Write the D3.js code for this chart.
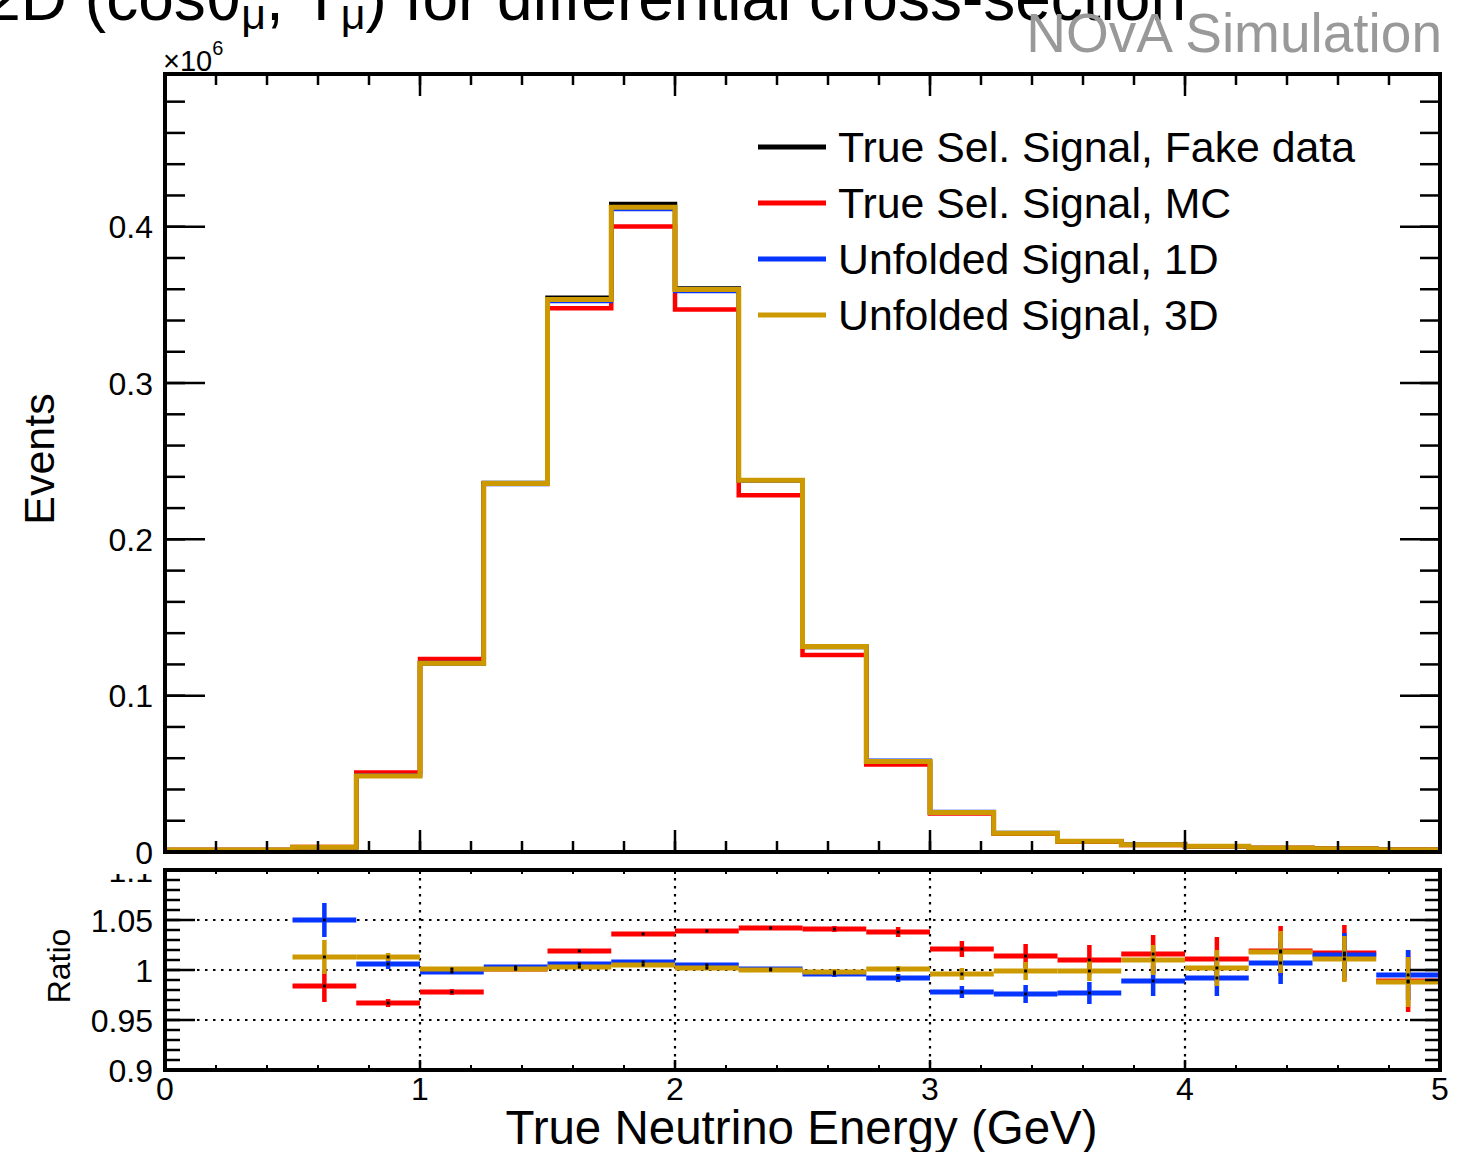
<!DOCTYPE html>
<html>
<head>
<meta charset="utf-8">
<script src="https://cdn.jsdelivr.net/npm/d3@7"></script>
<style>
  body { margin: 0; background: #fff; }
  svg { display: block; }
  text { font-family: "Liberation Sans", Arial, Helvetica, sans-serif; fill: #000; }
</style>
</head>
<body>
<svg id="chart" width="1458" height="1152"></svg>
<script>
// ---- histogram binning (true neutrino energy, GeV) ----
const binLow = [0, 0.25, 0.5, 0.75, 1.0, 1.25, 1.5, 1.75, 2.0, 2.25,
                2.5, 2.75, 3.0, 3.25, 3.5, 3.75, 4.0, 4.25, 4.5, 4.75];
const binWidth = 0.25;

// ---- event counts per bin (units of 10^6) ----
const fakeData   = [0.0012, 0.0013, 0.0031, 0.0492, 0.1208, 0.2360, 0.3545, 0.4145, 0.3605, 0.2378,
                    0.1312, 0.0580, 0.0252, 0.0120, 0.0068, 0.0046, 0.0036, 0.0026, 0.0020, 0.0015];
const mcSignal   = [0.0012, 0.0013, 0.0032, 0.0509, 0.1235, 0.2358, 0.3479, 0.4001, 0.3470, 0.2282,
                    0.1260, 0.0559, 0.0247, 0.0118, 0.0067, 0.0045, 0.0036, 0.0026, 0.0020, 0.0015];
const unfold1D   = [0.0012, 0.0013, 0.0030, 0.0489, 0.1210, 0.2353, 0.3524, 0.4112, 0.3587, 0.2376,
                    0.1317, 0.0585, 0.0258, 0.0123, 0.0070, 0.0047, 0.0036, 0.0026, 0.0020, 0.0015];
const unfold3D   = [0.0012, 0.0013, 0.0031, 0.0486, 0.1207, 0.2358, 0.3534, 0.4124, 0.3598, 0.2378,
                    0.1315, 0.0579, 0.0253, 0.0120, 0.0068, 0.0046, 0.0036, 0.0026, 0.0020, 0.0015];

// ---- ratio panel (bins from 0.5 GeV upward) ----
const ratioLow   = [0.5, 0.75, 1.0, 1.25, 1.5, 1.75, 2.0, 2.25, 2.5, 2.75,
                    3.0, 3.25, 3.5, 3.75, 4.0, 4.25, 4.5, 4.75];
const ratioMC    = [0.984, 0.967, 0.978, 1.001, 1.019, 1.036, 1.039, 1.042, 1.041, 1.038,
                    1.021, 1.014, 1.010, 1.016, 1.011, 1.019, 1.017, 0.989];
const ratioMCErr = [0.016, 0.004, 0.003, 0.002, 0.002, 0.002, 0.002, 0.002, 0.003, 0.005,
                    0.008, 0.012, 0.015, 0.019, 0.022, 0.025, 0.028, 0.031];
const ratio1D    = [1.050, 1.006, 0.998, 1.003, 1.006, 1.008, 1.005, 1.001, 0.996, 0.992,
                    0.978, 0.976, 0.977, 0.989, 0.992, 1.007, 1.015, 0.995];
const ratio1DErr = [0.017, 0.005, 0.002, 0.002, 0.002, 0.002, 0.002, 0.002, 0.003, 0.004,
                    0.006, 0.009, 0.011, 0.015, 0.018, 0.021, 0.022, 0.025];
const ratio3D    = [1.013, 1.013, 1.001, 1.001, 1.003, 1.005, 1.002, 1.000, 0.998, 1.001,
                    0.996, 0.999, 0.999, 1.010, 1.002, 1.018, 1.011, 0.988];
const ratio3DErr = [0.017, 0.004, 0.002, 0.002, 0.002, 0.002, 0.002, 0.002, 0.003, 0.003,
                    0.006, 0.009, 0.010, 0.015, 0.018, 0.021, 0.023, 0.025];

// ---- axis ticks and labels ----
const xTicks      = [0, 1, 2, 3, 4, 5];
const yTicksMain  = [0, 0.1, 0.2, 0.3, 0.4];
const yLabelsMain = ["0", "0.1", "0.2", "0.3", "0.4"];
const yTicksRatio  = [0.9, 0.95, 1.0, 1.05, 1.1];
const yLabelsRatio = ["0.9", "0.95", "1", "1.05", "1.1"];

const legendLabels = ["True Sel. Signal, Fake data", "True Sel. Signal, MC",
                      "Unfolded Signal, 1D", "Unfolded Signal, 3D"];

const colors = { data: "#000000", mc: "#ff0000", d1: "#0535ff", d3: "#cc9900" };

const svg = d3.select("#chart");

// frame geometry
const L = 165, R = 1440;
const mainTop = 74, mainBot = 852;
const ratTop = 870, ratBot = 1070;

const x = d3.scaleLinear().domain([0, 5]).range([L, R]);
const y = d3.scaleLinear().domain([0, 0.4977]).range([mainBot, mainTop]);
const yr = d3.scaleLinear().domain([0.9, 1.1]).range([ratBot, ratTop]);

// ---------- ratio panel ----------
const rat = svg.append("g");

// dotted grid
rat.selectAll("line.gx").data([1, 2, 3, 4]).join("line")
  .attr("x1", d => x(d)).attr("x2", d => x(d))
  .attr("y1", ratTop).attr("y2", ratBot)
  .attr("stroke", "#000").attr("stroke-width", 2.2).attr("stroke-dasharray", "2.5,5.5");
rat.selectAll("line.gy").data([0.95, 1.0, 1.05]).join("line")
  .attr("x1", L).attr("x2", R)
  .attr("y1", d => yr(d)).attr("y2", d => yr(d))
  .attr("stroke", "#000").attr("stroke-width", 2.2).attr("stroke-dasharray", "2.5,5.5");

function drawRatio(vals, errs, color) {
  const g = rat.append("g");
  vals.forEach((v, i) => {
    const lo = ratioLow[i], c = lo + binWidth / 2;
    g.append("line")
      .attr("x1", x(lo)).attr("x2", x(lo + binWidth))
      .attr("y1", yr(v)).attr("y2", yr(v))
      .attr("stroke", color).attr("stroke-width", 5);
    g.append("line")
      .attr("x1", x(c)).attr("x2", x(c))
      .attr("y1", yr(v - errs[i])).attr("y2", yr(v + errs[i]))
      .attr("stroke", color).attr("stroke-width", 4.5);
  });
}
drawRatio(ratioMC, ratioMCErr, colors.mc);
drawRatio(ratio1D, ratio1DErr, colors.d1);
drawRatio(ratio3D, ratio3DErr, colors.d3);

// point markers
[ratioMC, ratio1D, ratio3D].forEach(vals => {
  rat.append("g").selectAll("rect").data(vals).join("rect")
    .attr("x", (d, i) => x(ratioLow[i] + binWidth / 2) - 1.5)
    .attr("y", d => yr(d) - 1.5)
    .attr("width", 3).attr("height", 3).attr("fill", "#000");
});

// ratio frame
rat.append("rect").attr("x", L).attr("y", ratTop).attr("width", R - L).attr("height", ratBot - ratTop)
  .attr("fill", "none").attr("stroke", "#000").attr("stroke-width", 4);

// ratio y ticks
const rMinor = d3.range(0.9, 1.1001, 0.01);
rat.selectAll("line.rmy").data(rMinor).join("line")
  .attr("x1", L).attr("x2", L + 15).attr("y1", d => yr(d)).attr("y2", d => yr(d))
  .attr("stroke", "#000").attr("stroke-width", 2.5);
rat.selectAll("line.rmy2").data(rMinor).join("line")
  .attr("x1", R).attr("x2", R - 15).attr("y1", d => yr(d)).attr("y2", d => yr(d))
  .attr("stroke", "#000").attr("stroke-width", 2.5);
rat.selectAll("line.rMy").data(yTicksRatio).join("line")
  .attr("x1", L).attr("x2", L + 30).attr("y1", d => yr(d)).attr("y2", d => yr(d))
  .attr("stroke", "#000").attr("stroke-width", 2.5);
rat.selectAll("line.rMy2").data(yTicksRatio).join("line")
  .attr("x1", R).attr("x2", R - 30).attr("y1", d => yr(d)).attr("y2", d => yr(d))
  .attr("stroke", "#000").attr("stroke-width", 2.5);

// ratio x ticks
const xMinor = d3.range(0, 5.0001, 0.2);
rat.selectAll("line.rmx").data(xMinor).join("line")
  .attr("x1", d => x(d)).attr("x2", d => x(d)).attr("y1", ratBot).attr("y2", ratBot - 5)
  .attr("stroke", "#000").attr("stroke-width", 2);
rat.selectAll("line.rmx2").data(xMinor).join("line")
  .attr("x1", d => x(d)).attr("x2", d => x(d)).attr("y1", ratTop).attr("y2", ratTop + 4)
  .attr("stroke", "#000").attr("stroke-width", 2);
rat.selectAll("line.rMx").data(xTicks).join("line")
  .attr("x1", d => x(d)).attr("x2", d => x(d)).attr("y1", ratBot).attr("y2", ratBot - 10)
  .attr("stroke", "#000").attr("stroke-width", 2.5);

// ratio y labels (top label is partly hidden by the upper pad)
svg.append("clipPath").attr("id", "ratClip")
  .append("rect").attr("x", 0).attr("y", 874).attr("width", 1458).attr("height", 300);
svg.append("g").attr("clip-path", "url(#ratClip)")
  .selectAll("text").data(yTicksRatio).join("text")
  .attr("x", 153).attr("y", d => yr(d)).attr("dy", "0.36em")
  .attr("text-anchor", "end").attr("font-size", 32)
  .text((d, i) => yLabelsRatio[i]);

svg.append("text")
  .attr("transform", `translate(70, 966) rotate(-90)`)
  .attr("text-anchor", "middle").attr("font-size", 32).text("Ratio");

// x tick labels
svg.append("g").selectAll("text").data(xTicks).join("text")
  .attr("x", d => x(d)).attr("y", 1100)
  .attr("text-anchor", "middle").attr("font-size", 32).text(d => d);

svg.append("text")
  .attr("x", (L + R) / 2 - 1).attr("y", 1144)
  .attr("text-anchor", "middle").attr("font-size", 47.5)
  .text("True Neutrino Energy (GeV)");

// ---------- main panel ----------
const main = svg.append("g");

function stepPath(vals) {
  const pts = vals.map((v, i) => [binLow[i], v]);
  pts.push([binLow[binLow.length - 1] + binWidth, vals[vals.length - 1]]);
  return d3.line().x(d => x(d[0])).y(d => y(d[1])).curve(d3.curveStepAfter)(pts);
}

main.append("path").attr("d", stepPath(fakeData)).attr("fill", "none")
  .attr("stroke", colors.data).attr("stroke-width", 4.5);
main.append("path").attr("d", stepPath(mcSignal)).attr("fill", "none")
  .attr("stroke", colors.mc).attr("stroke-width", 4.5);
main.append("path").attr("d", stepPath(unfold1D)).attr("fill", "none")
  .attr("stroke", colors.d1).attr("stroke-width", 4);
main.append("path").attr("d", stepPath(unfold3D)).attr("fill", "none")
  .attr("stroke", colors.d3).attr("stroke-width", 5);

// main frame
main.append("rect").attr("x", L).attr("y", mainTop).attr("width", R - L).attr("height", mainBot - mainTop)
  .attr("fill", "none").attr("stroke", "#000").attr("stroke-width", 4);

// main y ticks
const yMinor = d3.range(0, 0.4977, 0.02);
[[L, 1], [R, -1]].forEach(([x0, dir]) => {
  main.append("g").selectAll("line").data(yMinor).join("line")
    .attr("x1", x0).attr("x2", x0 + dir * 20).attr("y1", d => y(d)).attr("y2", d => y(d))
    .attr("stroke", "#000").attr("stroke-width", 2.5);
  main.append("g").selectAll("line").data(yTicksMain).join("line")
    .attr("x1", x0).attr("x2", x0 + dir * 40).attr("y1", d => y(d)).attr("y2", d => y(d))
    .attr("stroke", "#000").attr("stroke-width", 2.5);
});

// main x ticks
[[mainBot, -1], [mainTop, 1]].forEach(([y0, dir]) => {
  main.append("g").selectAll("line").data(xMinor).join("line")
    .attr("x1", d => x(d)).attr("x2", d => x(d)).attr("y1", y0).attr("y2", y0 + dir * 11)
    .attr("stroke", "#000").attr("stroke-width", 2.5);
  main.append("g").selectAll("line").data(xTicks).join("line")
    .attr("x1", d => x(d)).attr("x2", d => x(d)).attr("y1", y0).attr("y2", y0 + dir * 22)
    .attr("stroke", "#000").attr("stroke-width", 2.5);
});

// main y labels
main.append("g").selectAll("text").data(yTicksMain).join("text")
  .attr("x", 153).attr("y", d => y(d)).attr("dy", "0.36em")
  .attr("text-anchor", "end").attr("font-size", 32)
  .text((d, i) => yLabelsMain[i]);

// exponent
const ex = svg.append("text").attr("x", 163).attr("y", 71).attr("font-size", 29);
ex.append("tspan").text("\u00d710");
ex.append("tspan").attr("font-size", 20).attr("dy", -16).text("6");

svg.append("text")
  .attr("transform", "translate(54, 459) rotate(-90)")
  .attr("text-anchor", "middle").attr("font-size", 43).text("Events");

// legend
const leg = svg.append("g");
const legColors = [colors.data, colors.mc, colors.d1, colors.d3];
legendLabels.forEach((lab, i) => {
  const ly = 147 + i * 56;
  leg.append("line").attr("x1", 758).attr("x2", 826).attr("y1", ly).attr("y2", ly)
    .attr("stroke", legColors[i]).attr("stroke-width", 5);
  leg.append("text").attr("x", 838).attr("y", ly).attr("dy", "0.35em")
    .attr("font-size", 42.8).text(lab);
});

// title
const title = svg.append("text").attr("x", 1186).attr("y", 20)
  .attr("text-anchor", "end").attr("font-size", 64);
title.append("tspan").text("2D (cos\u03b8");
title.append("tspan").attr("font-size", 43).attr("dy", 9).text("\u03bc");
title.append("tspan").attr("dy", -9).text(", T");
title.append("tspan").attr("font-size", 43).attr("dy", 9).text("\u03bc");
title.append("tspan").attr("dy", -9).text(") for differential cross-section");

svg.append("text").attr("x", 1442).attr("y", 52)
  .attr("text-anchor", "end").attr("font-size", 55).style("fill", "#999999")
  .text("NOvA Simulation");
</script>
</body>
</html>
